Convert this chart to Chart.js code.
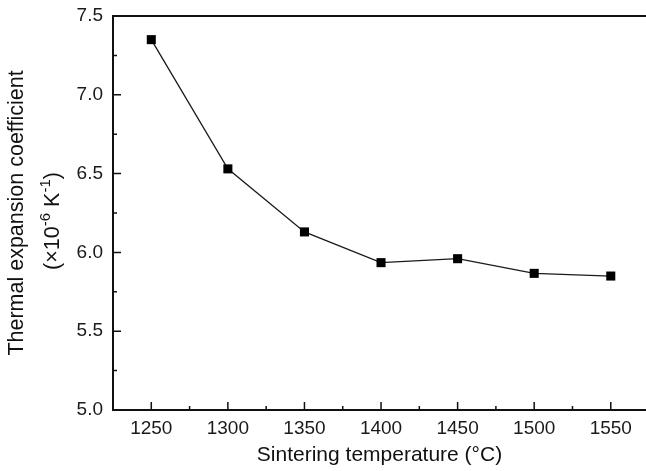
<!DOCTYPE html>
<html lang="en">
<head>
  <meta charset="UTF-8" />
  <title>Thermal expansion coefficient vs sintering temperature</title>
  <script src="https://cdn.jsdelivr.net/npm/chart.js"></script>
  <style>
    html, body { margin: 0; padding: 0; background: #fff; overflow: hidden; }
    #wrap { width: 646px; height: 471px; position: relative; }
    canvas { display: block; }
  </style>
</head>
<body>
  <div id="wrap"><canvas id="cteChart"></canvas></div>

  <script>
    // data
    const temperatures = [1250, 1300, 1350, 1400, 1450, 1500, 1550];
    const cte = [7.35, 6.53, 6.13, 5.935, 5.96, 5.867, 5.85];

    const xTicks = [1250, 1300, 1350, 1400, 1450, 1500, 1550];
    const xMinor = [1275, 1325, 1375, 1425, 1475, 1525];
    const yTicks = [5.0, 5.5, 6.0, 6.5, 7.0, 7.5];
    const yMinor = [5.25, 5.75, 6.25, 6.75, 7.25];

    const fontFamily = '"Liberation Sans", Arial, sans-serif';
    const yTitleSize = 21.5;

    // inward ticks, top frame line and the unit line of the y title
    const frameTicks = {
      id: 'frameTicks',
      afterDraw(chart) {
        const ctx = chart.ctx;
        const a = chart.chartArea;
        const x = chart.scales.x, y = chart.scales.y;
        ctx.save();
        ctx.strokeStyle = '#111';
        ctx.lineWidth = 1.5;
        ctx.beginPath();
        xTicks.forEach(v => { const p = x.getPixelForValue(v); ctx.moveTo(p, a.bottom); ctx.lineTo(p, a.bottom - 8); });
        xMinor.forEach(v => { const p = x.getPixelForValue(v); ctx.moveTo(p, a.bottom); ctx.lineTo(p, a.bottom - 4); });
        yTicks.forEach(v => { const p = y.getPixelForValue(v); ctx.moveTo(a.left, p); ctx.lineTo(a.left + 8, p); });
        yMinor.forEach(v => { const p = y.getPixelForValue(v); ctx.moveTo(a.left, p); ctx.lineTo(a.left + 4, p); });
        ctx.stroke();
        ctx.lineWidth = 2;
        ctx.beginPath();
        ctx.moveTo(a.left, a.top);
        ctx.lineTo(a.right, a.top);
        ctx.stroke();

        // second line of the y title: (×10^-6 K^-1)
        const parts = [
          ['(×10', false], ['-6', true], [' K', false], ['-1', true], [')', false]
        ];
        const big = yTitleSize + 'px ' + fontFamily;
        const small = Math.round(yTitleSize * 0.68) + 'px ' + fontFamily;
        let total = 0;
        parts.forEach(p => { ctx.font = p[1] ? small : big; total += ctx.measureText(p[0]).width; });
        ctx.translate(y.left + 53, (a.top + a.bottom) / 2 + 8);
        ctx.rotate(-Math.PI / 2);
        ctx.fillStyle = '#111';
        ctx.textBaseline = 'middle';
        let cx = -total / 2;
        parts.forEach(p => {
          ctx.font = p[1] ? small : big;
          ctx.fillText(p[0], cx, p[1] ? -7 : 0);
          cx += ctx.measureText(p[0]).width;
        });
        ctx.restore();
      }
    };

    new Chart(document.getElementById('cteChart'), {
      type: 'line',
      data: {
        datasets: [{
          data: temperatures.map((t, i) => ({ x: t, y: cte[i] })),
          borderColor: '#1a1a1a',
          borderWidth: 1.3,
          pointStyle: 'rect',
          pointRadius: 6.4,
          pointHoverRadius: 6.4,
          pointBackgroundColor: '#000',
          pointBorderColor: '#000',
          pointBorderWidth: 0,
          tension: 0
        }]
      },
      options: {
        responsive: true,
        maintainAspectRatio: false,
        animation: false,
        layout: { autoPadding: false, padding: { top: 16, right: 0, left: 0, bottom: 0 } },
        plugins: {
          legend: { display: false },
          tooltip: { enabled: false }
        },
        scales: {
          x: {
            type: 'linear',
            min: 1225,
            max: 1573,
            afterBuildTicks: s => { s.ticks = xTicks.map(v => ({ value: v })); },
            afterFit: s => { s.height = 61; },
            grid: { display: false, drawTicks: false },
            border: { display: true, color: '#111', width: 2 },
            ticks: {
              padding: 7,
              color: '#1a1a1a',
              font: { family: fontFamily, size: 19 },
              callback: v => String(v)
            },
            title: {
              display: true,
              text: 'Sintering temperature (°C)',
              color: '#111',
              font: { family: fontFamily, size: 21 },
              padding: { top: 0, bottom: 3 }
            }
          },
          y: {
            type: 'linear',
            min: 5.0,
            max: 7.5,
            afterBuildTicks: s => { s.ticks = yTicks.map(v => ({ value: v })); },
            afterFit: s => { s.width = 113; s.paddingTop = 11; s.paddingBottom = 11; },
            grid: { display: false, drawTicks: false },
            border: { display: true, color: '#111', width: 2 },
            ticks: {
              padding: 10,
              color: '#1a1a1a',
              font: { family: fontFamily, size: 19 },
              callback: v => Number(v).toFixed(1)
            },
            title: {
              display: true,
              text: ['Thermal expansion coefficient', ' '],
              color: '#111',
              font: { family: fontFamily, size: yTitleSize, lineHeight: 1.6 },
              padding: { top: 0, bottom: 0 }
            }
          }
        }
      },
      plugins: [frameTicks]
    });
  </script>
</body>
</html>
